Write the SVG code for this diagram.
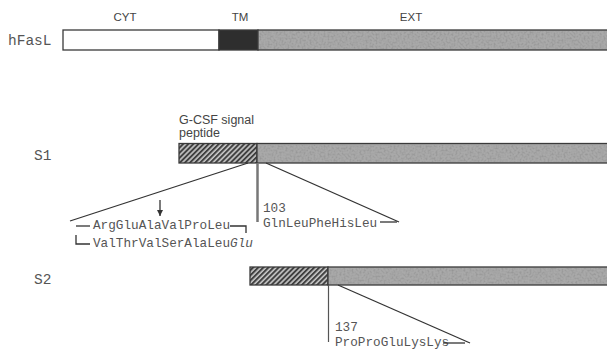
<svg xmlns="http://www.w3.org/2000/svg" width="607" height="353" viewBox="0 0 607 353">
<style>
.lab{font-family:"Liberation Sans",Arial,sans-serif;fill:#444;font-size:11.5px}
.mono{font-family:"Liberation Mono","Courier New",monospace;fill:#555;font-size:12.7px}
.big{font-family:"Liberation Mono","Courier New",monospace;fill:#555;font-size:14.5px}
.bar{stroke:#3a3a3a;stroke-width:1.3}
.ln{stroke:#333;stroke-width:1.3;fill:none}
.gry{fill:#a9a9a9}
</style>
<defs>
<pattern id="hatch" patternUnits="userSpaceOnUse" width="3.6" height="3.6" patternTransform="rotate(45)">
<rect width="3.6" height="3.6" fill="#c8c8c8"/>
<rect width="2" height="3.6" fill="#404040"/>
</pattern>
<filter id="noise" x="0" y="0" width="100%" height="100%">
<feTurbulence type="fractalNoise" baseFrequency="0.5" numOctaves="2" seed="3" result="t"/>
<feColorMatrix in="t" type="matrix" values="0 0 0 0 0.3  0 0 0 0 0.3  0 0 0 0 0.3  2.2 0 0 0 -0.9" result="c"/>
<feComposite in="c" in2="SourceGraphic" operator="in"/>
</filter>
<marker id="ah" markerWidth="8" markerHeight="8" refX="6" refY="3" orient="auto" markerUnits="userSpaceOnUse">
<path d="M0,0 L6,3 L0,6 Z" fill="#333"/>
</marker>
</defs>
<rect width="607" height="353" fill="#fff"/>

<g id="domain-labels">
<text class="lab" x="125" y="21" text-anchor="middle">CYT</text>
<text class="lab" x="240" y="21" text-anchor="middle">TM</text>
<text class="lab" x="411" y="21" text-anchor="middle">EXT</text>
</g>

<g id="hFasL">
<text class="big" x="8" y="45">hFasL</text>
<rect class="bar" x="63" y="30" width="156" height="20" fill="#fff"/>
<rect class="bar" x="219" y="30" width="39" height="20" fill="#2e2e2e"/>
<rect class="bar gry" x="258" y="30" width="352" height="20"/>
<rect x="259" y="31" width="350" height="18" fill="#fff" filter="url(#noise)"/>
</g>

<g id="S1">
<text class="big" x="34" y="160">S1</text>
<text class="lab" x="179" y="124" style="font-size:12.5px">G-CSF signal</text>
<text class="lab" x="179" y="137" style="font-size:12.5px">peptide</text>
<rect class="bar" x="179" y="143.5" width="78" height="19.5" fill="url(#hatch)"/>
<rect class="bar gry" x="257" y="143.5" width="353" height="19.5"/>
<rect x="258" y="144.5" width="351" height="17.5" fill="#fff" filter="url(#noise)"/>
</g>

<g id="S2">
<text class="big" x="34" y="284">S2</text>
<rect class="bar" x="250" y="267" width="78" height="18" fill="url(#hatch)"/>
<rect class="bar gry" x="328" y="267" width="282" height="18"/>
<rect x="329" y="268" width="280" height="16" fill="#fff" filter="url(#noise)"/>
</g>

<g id="seq-S1-left">
<text class="mono" x="93" y="229">ArgGluAlaValProLeu</text>
<text class="mono" x="93" y="247">ValThrValSerAlaLeu<tspan font-style="italic">Glu</tspan></text>
</g>

<g id="seq-S1-right">
<text class="mono" x="263" y="212">103</text>
<text class="mono" x="263" y="227">GlnLeuPheHisLeu</text>
</g>

<g id="seq-S2">
<text class="mono" x="335" y="331">137</text>
<text class="mono" x="335" y="346">ProProGluLysLys</text>
</g>

<g id="connectors">
<line class="ln" x1="248" y1="163" x2="70" y2="221"/>
<line class="ln" x1="266" y1="163" x2="399" y2="222"/>
<line x1="257.5" y1="163" x2="257.5" y2="222" stroke="#777" stroke-width="2.5"/>
<line class="ln" x1="76" y1="226" x2="90" y2="226"/>
<polyline class="ln" points="230,226 246,226 246,233"/>
<polyline class="ln" points="76,235 76,244 90,244"/>
<line class="ln" x1="160" y1="200" x2="160" y2="216" marker-end="url(#ah)"/>
<line class="ln" x1="380" y1="222" x2="397" y2="222"/>
<line x1="328.5" y1="285" x2="328.5" y2="342" stroke="#555" stroke-width="1.2"/>
<line class="ln" x1="338" y1="285" x2="470" y2="343"/>
<line class="ln" x1="443" y1="343" x2="465" y2="343"/>
</g>
</svg>
